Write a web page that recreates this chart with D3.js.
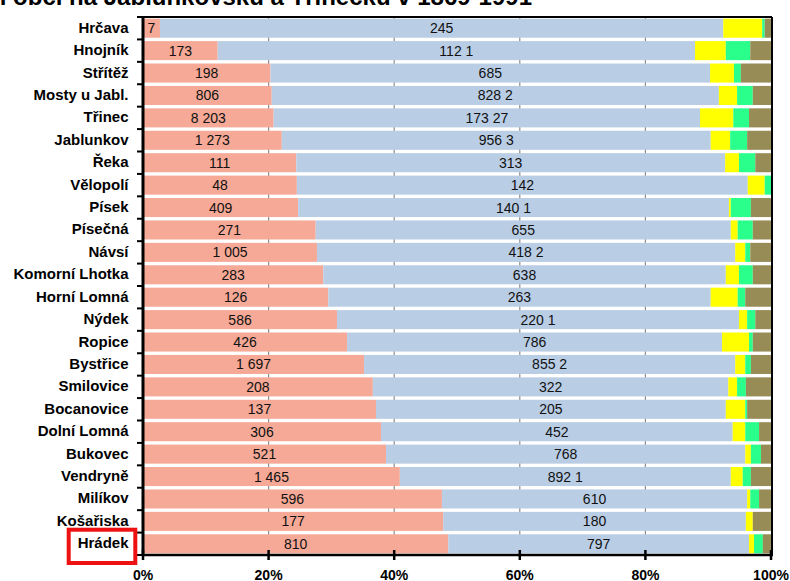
<!DOCTYPE html>
<html><head><meta charset="utf-8">
<script src="https://cdn.jsdelivr.net/npm/d3@7"></script>
<style>
body{margin:0;background:#fff;}
svg{display:block;font-family:Arial,"Liberation Sans",sans-serif;}
</style></head>
<body><svg id="c" width="790" height="581"></svg>
<script>
const categories = ["Hrčava","Hnojník","Střítěž","Mosty u Jabl.","Třinec","Jablunkov","Řeka","Vělopolí","Písek","Písečná","Návsí","Komorní Lhotka","Horní Lomná","Nýdek","Ropice","Bystřice","Smilovice","Bocanovice","Dolní Lomná","Bukovec","Vendryně","Milíkov","Košařiska","Hrádek"];
const pinkShare   = [2.7,11.9,20.3,20.5,20.8,22.1,24.4,24.5,24.7,27.5,27.7,28.7,29.5,30.9,32.5,35.2,36.6,37.1,37.9,38.7,40.9,47.6,47.8,48.6];
const blueShare   = [89.7,76.0,70.0,71.2,67.9,68.3,68.3,71.8,68.6,66.1,66.6,64.1,60.9,64.0,59.7,59.1,56.6,55.7,56.0,57.2,52.7,48.6,48.2,47.9];
const yellowShare = [6.2,4.9,3.8,2.9,5.3,3.1,2.2,2.7,0.3,1.1,1.6,2.1,4.3,1.3,4.3,1.6,1.4,3.1,2.0,0.9,1.9,0.5,1.1,0.8];
const greenShare  = [0.4,3.9,1.1,2.5,2.5,2.7,2.6,1.0,3.2,2.4,0.8,2.2,1.2,1.3,0.6,0.9,1.4,0.3,2.2,1.6,1.3,1.4,0.0,1.4];
const oliveShare  = [1.0,3.3,4.8,2.9,3.5,3.8,2.5,0.0,3.2,2.9,3.3,2.9,4.1,2.5,2.9,3.2,4.0,3.8,1.9,1.6,3.2,1.9,2.9,1.3];
const pinkLabels  = ["7","173","198","806","8 203","1 273","111","48","409","271","1 005","283","126","586","426","1 697","208","137","306","521","1 465","596","177","810"];
const blueLabels  = ["245","112 1","685","828 2","173 27","956 3","313","142","140 1","655","418 2","638","263","220 1","786","855 2","322","205","452","768","892 1","610","180","797"];
const xTicks = [0,20,40,60,80,100];
const titleText = "Národnostní složení obcí na Jablunkovsku a Třinecku v 1869-1991";

const keys = ["pink","blue","yellow","green","olive"];
const colors = {pink:"#F5A996",blue:"#B9CDE5",yellow:"#FFFF00",green:"#2AFF8C",olive:"#978C56"};
const rows = categories.map((c,i)=>{
  const vals = {pink:pinkShare[i],blue:blueShare[i],yellow:yellowShare[i],green:greenShare[i],olive:oliveShare[i]};
  const tot = keys.reduce((s,k)=>s+vals[k],0);
  const r = {cat:c,i:i};
  keys.forEach(k=>r[k]=vals[k]/tot*100);
  return r;
});

const svg = d3.select("#c");
const L=143, R=771, T=17, B=555;
const x = d3.scaleLinear().domain([0,100]).range([L,R]);
const y = d3.scaleBand().domain(categories).range([T,B]).paddingInner(0.15).paddingOuter(0.075);

// title
svg.append("text").attr("x",532).attr("y",5).attr("text-anchor","end")
  .attr("font-size",24).attr("font-weight","bold").attr("fill","#000").text(titleText);

// gridlines
svg.append("g").selectAll("line").data(xTicks.filter(t=>t>0&&t<100)).join("line")
  .attr("x1",d=>x(d)).attr("x2",d=>x(d)).attr("y1",T).attr("y2",B)
  .attr("stroke","#8c8c8c").attr("stroke-width",1.2);

const stack = d3.stack().keys(keys)(rows);
svg.append("g").selectAll("g").data(stack).join("g").attr("fill",d=>colors[d.key])
  .selectAll("rect").data(d=>d).join("rect")
  .attr("x",d=>x(d[0])).attr("width",d=>Math.max(0,x(d[1])-x(d[0])))
  .attr("y",d=>y(d.data.cat)).attr("height",y.bandwidth());

// data labels
const lab = svg.append("g").attr("font-size",14).attr("fill","#111").attr("text-anchor","middle");
const sp = stack[0], sb = stack[1];
lab.selectAll("text.p").data(rows).join("text").attr("class","p")
  .attr("x",(d,i)=>(x(sp[i][0])+x(sp[i][1]))/2)
  .attr("y",d=>y(d.cat)+y.bandwidth()/2).attr("dy","0.36em")
  .text((d,i)=>pinkLabels[i]);
lab.selectAll("text.b").data(rows).join("text").attr("class","b")
  .attr("x",(d,i)=>(x(sb[i][0])+x(sb[i][1]))/2)
  .attr("y",d=>y(d.cat)+y.bandwidth()/2).attr("dy","0.36em")
  .text((d,i)=>blueLabels[i]);

// frame top and right
svg.append("line").attr("x1",L).attr("x2",R+1).attr("y1",T).attr("y2",T).attr("stroke","#000").attr("stroke-width",2);
svg.append("line").attr("x1",R+1).attr("x2",R+1).attr("y1",T).attr("y2",B).attr("stroke","#000").attr("stroke-width",2);

// y axis
const step = y.step();
const boundaries = d3.range(categories.length+1).map(i=>T + i*(B-T)/categories.length);
svg.append("g").selectAll("line").data(boundaries).join("line")
  .attr("x1",137).attr("x2",L).attr("y1",d=>d).attr("y2",d=>d)
  .attr("stroke","#000").attr("stroke-width",2);
svg.append("line").attr("x1",L).attr("x2",L).attr("y1",T-1).attr("y2",B+1).attr("stroke","#000").attr("stroke-width",3);
svg.append("g").attr("font-size",15).attr("font-weight","bold").attr("text-anchor","end").attr("fill","#000")
  .selectAll("text").data(categories).join("text")
  .attr("x",128.5).attr("y",d=>y(d)+y.bandwidth()/2).attr("dy","0.3em").text(d=>d);

// x axis
svg.append("line").attr("x1",L-1).attr("x2",R+2).attr("y1",B).attr("y2",B).attr("stroke","#000").attr("stroke-width",2.5);
svg.append("g").selectAll("line").data(xTicks).join("line")
  .attr("x1",d=>x(d)).attr("x2",d=>x(d)).attr("y1",B-5).attr("y2",B+5)
  .attr("stroke","#000").attr("stroke-width",2.5);
svg.append("g").attr("font-size",14).attr("font-weight","bold").attr("text-anchor","middle").attr("fill","#000")
  .selectAll("text").data(xTicks).join("text")
  .attr("x",d=>x(d)).attr("y",580).text(d=>d+"%");

// highlight box
svg.append("rect").attr("x",68.7).attr("y",529.7).attr("width",66.6).attr("height",33.3)
  .attr("fill","none").attr("stroke","#ee1111").attr("stroke-width",4);
</script></body></html>
